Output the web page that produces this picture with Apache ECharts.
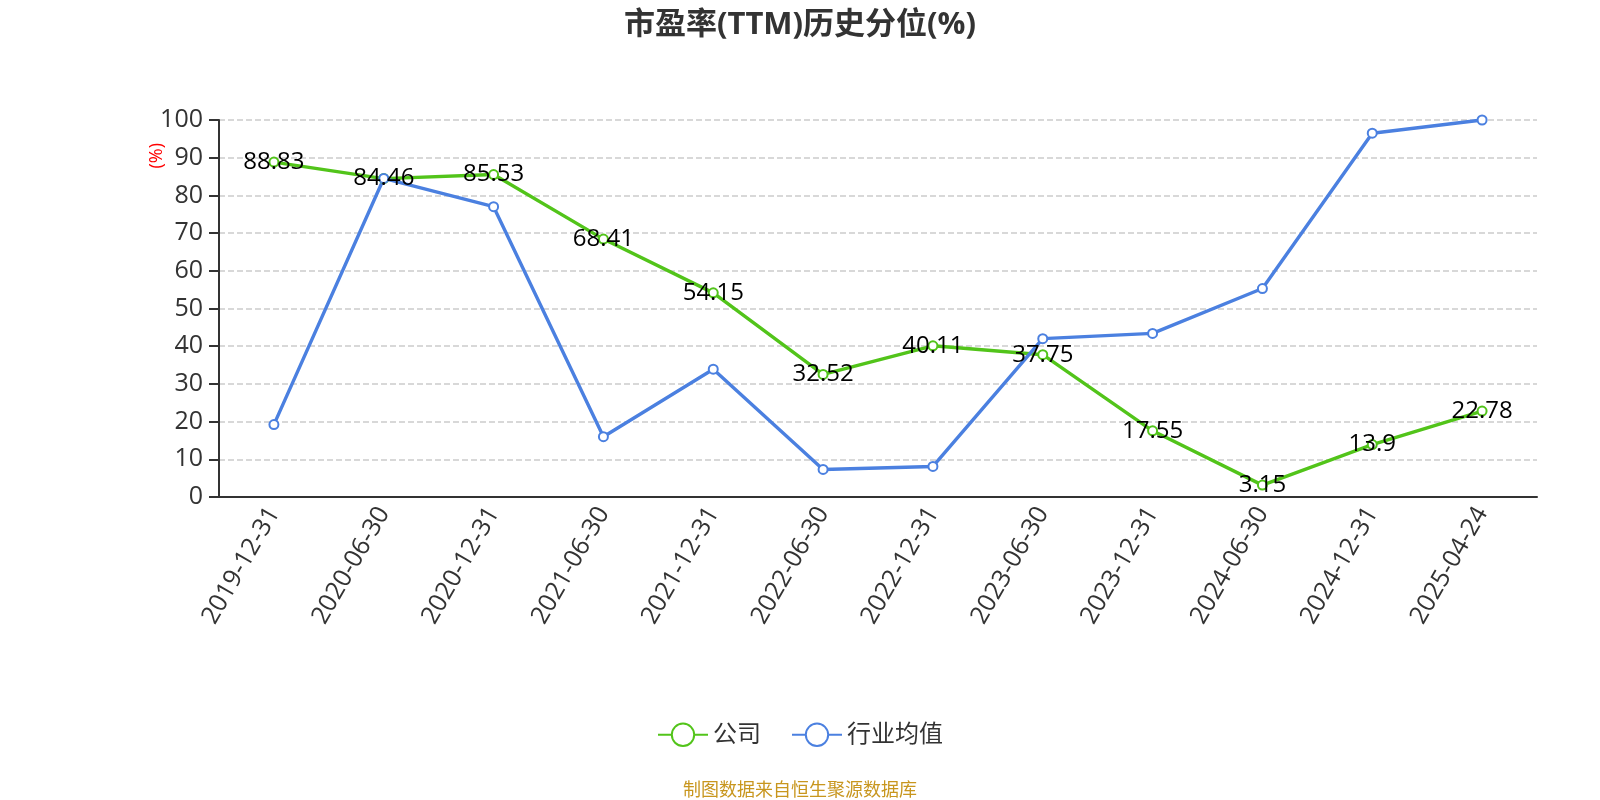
<!DOCTYPE html>
<html><head><meta charset="utf-8">
<script src="https://cdn.jsdelivr.net/npm/echarts@6/dist/echarts.min.js"></script>
<style>html,body{margin:0;padding:0;background:#fff}#c{width:1600px;height:800px}</style>
</head><body><div id="c"></div>
<script>
var categories = ['2019-12-31','2020-06-30','2020-12-31','2021-06-30','2021-12-31','2022-06-30','2022-12-31','2023-06-30','2023-12-31','2024-06-30','2024-12-31','2025-04-24'];
var companyValues = [88.83,84.46,85.53,68.41,54.15,32.52,40.11,37.75,17.55,3.15,13.9,22.78];
var industryValues = [19.2,84.5,77.0,16.0,33.9,7.3,8.1,42.0,43.4,55.3,96.5,100.0];
var yTicks = {min:0, max:100, interval:10};
var FONT = '"Open Sans", "Noto Sans CJK SC", sans-serif';
var chart = echarts.init(document.getElementById('c'));
chart.setOption({
  animation:false,
  title:{text:'市盈率(TTM)历史分位(%)', left:'center', top:5,
    textStyle:{fontSize:31, fontWeight:'bold', color:'#333', fontFamily:FONT}},
  grid:{left:219, right:63, top:120, bottom:303},
  legend:{bottom:48, left:'center', itemWidth:50, itemHeight:28, itemGap:30,
    textStyle:{fontSize:24, color:'#333', fontFamily:FONT},
    data:['公司','行业均值']},
  graphic:[
    {type:'text', left:148, top:143, rotation:Math.PI/2,
      style:{text:'(%)', fill:'#ff0000', font:'18px "Open Sans", sans-serif'}},
    {type:'text', left:'center', top:780,
      style:{text:'制图数据来自恒生聚源数据库', fill:'#C8961E', font:'18px "Noto Sans CJK SC", sans-serif'}}
  ],
  xAxis:{type:'category', data:categories, boundaryGap:true,
    axisLine:{lineStyle:{color:'#333', width:2}},
    axisTick:{lineStyle:{color:'#333', width:2}, length:8},
    axisLabel:{rotate:60, fontSize:25, color:'#333', fontFamily:FONT, margin:12, interval:0}},
  yAxis:{type:'value', min:yTicks.min, max:yTicks.max, interval:yTicks.interval,
    axisLine:{show:true, lineStyle:{color:'#333', width:2}},
    axisTick:{show:true, lineStyle:{color:'#333', width:2}, length:10},
    axisLabel:{fontSize:25, color:'#333', fontFamily:FONT, margin:16},
    splitLine:{lineStyle:{type:'dashed', color:'#ccc', width:1.5}}},
  series:[
    {name:'公司', type:'line', data:companyValues, symbol:'emptyCircle', symbolSize:9,
      itemStyle:{color:'#52C41A'}, lineStyle:{width:3.4, color:'#52C41A'},
      label:{show:true, position:'inside', fontSize:24, color:'#000', fontFamily:FONT}},
    {name:'行业均值', type:'line', data:industryValues, symbol:'emptyCircle', symbolSize:9,
      itemStyle:{color:'#4B80E0'}, lineStyle:{width:3.4, color:'#4B80E0'}}
  ]
});
</script></body></html>
